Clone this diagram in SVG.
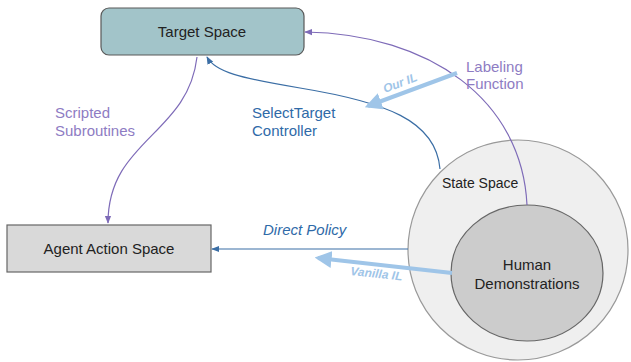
<svg xmlns="http://www.w3.org/2000/svg" width="631" height="362" viewBox="0 0 631 362">
  <style>
    text { font-family: "Liberation Sans", Arial, sans-serif; }
    .node-label { font-size: 15px; fill: #222; text-anchor: middle; }
    .purple-label { font-size: 15px; fill: #8e7cc3; }
    .blue-label { font-size: 15px; fill: #2f6aa8; }
    .il-label { font-size: 12px; font-weight: bold; font-style: italic; fill: #9fc5e8; }
    .purple { fill: none; stroke: #7e6bb8; stroke-width: 1.2; }
    .blue { fill: none; stroke: #3b6ea5; stroke-width: 1.2; }
    .il { fill: none; stroke: #9fc5e8; stroke-width: 4; }
  </style>
  <defs>
    <marker id="arrow-purple" viewBox="0 0 10 10" refX="9" refY="5" markerWidth="8" markerHeight="8" markerUnits="userSpaceOnUse" orient="auto">
      <path d="M0,1 L10,5 L0,9 z" fill="#7e6bb8"/>
    </marker>
    <marker id="arrow-blue" viewBox="0 0 10 10" refX="9" refY="5" markerWidth="8" markerHeight="8" markerUnits="userSpaceOnUse" orient="auto">
      <path d="M0,1 L10,5 L0,9 z" fill="#3b6ea5"/>
    </marker>
    <marker id="arrow-il" viewBox="0 0 10 10" refX="8" refY="5" markerWidth="17" markerHeight="17" markerUnits="userSpaceOnUse" orient="auto">
      <path d="M0,0 L10,5 L0,10 z" fill="#9fc5e8"/>
    </marker>
  </defs>

  <rect width="631" height="362" fill="#ffffff"/>

  <g id="state-space">
    <circle cx="518" cy="250" r="110" fill="#efefef" stroke="#999" stroke-width="1.2"/>
    <text x="442" y="188" font-size="14" fill="#222">State Space</text>
  </g>

  <g id="human-demonstrations">
    <ellipse cx="527" cy="273" rx="76" ry="68" fill="#cccccc" stroke="#666" stroke-width="1.2"/>
    <text class="node-label" x="527" y="270">Human</text>
    <text class="node-label" x="527" y="289">Demonstrations</text>
  </g>

  <g id="target-space">
    <rect x="101" y="8" width="203" height="47" rx="8" fill="#a2c4c9" stroke="#595959" stroke-width="1.2"/>
    <text class="node-label" x="202" y="37">Target Space</text>
  </g>

  <g id="agent-action-space">
    <rect x="7" y="225" width="204" height="47" fill="#d9d9d9" stroke="#666" stroke-width="1.2"/>
    <text class="node-label" x="109" y="254">Agent Action Space</text>
  </g>

  <g id="connectors">
    <!-- labeling function: demonstrations to target space -->
    <path class="purple" d="M527,205 C522,100 430,34 305,32" marker-end="url(#arrow-purple)"/>
    <!-- scripted subroutines: target space to agent action space -->
    <path class="purple" d="M197,57 C188,135 108,140 108,223" marker-end="url(#arrow-purple)"/>
    <!-- select target controller: state space to target space -->
    <path class="blue" d="M440,169 C436,120 385,102 300,88 C240,78 215,72 207,57" marker-end="url(#arrow-blue)"/>
    <!-- direct policy -->
    <path class="blue" d="M408,249 L212,249" marker-end="url(#arrow-blue)"/>
    <!-- imitation learning arrows -->
    <path class="il" d="M457,73 L368,106" marker-end="url(#arrow-il)"/>
    <path class="il" d="M452,273 L318,258" marker-end="url(#arrow-il)"/>
  </g>

  <g id="labels">
    <text class="purple-label" x="55" y="118">Scripted</text>
    <text class="purple-label" x="55" y="136">Subroutines</text>
    <text class="purple-label" x="466" y="72">Labeling</text>
    <text class="purple-label" x="466" y="89">Function</text>
    <text class="blue-label" x="252" y="118">SelectTarget</text>
    <text class="blue-label" x="252" y="136">Controller</text>
    <text class="blue-label" x="263" y="235" font-style="italic">Direct Policy</text>
    <text class="il-label" transform="translate(385,93) rotate(-21)">Our IL</text>
    <text class="il-label" transform="translate(350,275) rotate(6)">Vanilla IL</text>
  </g>
</svg>
